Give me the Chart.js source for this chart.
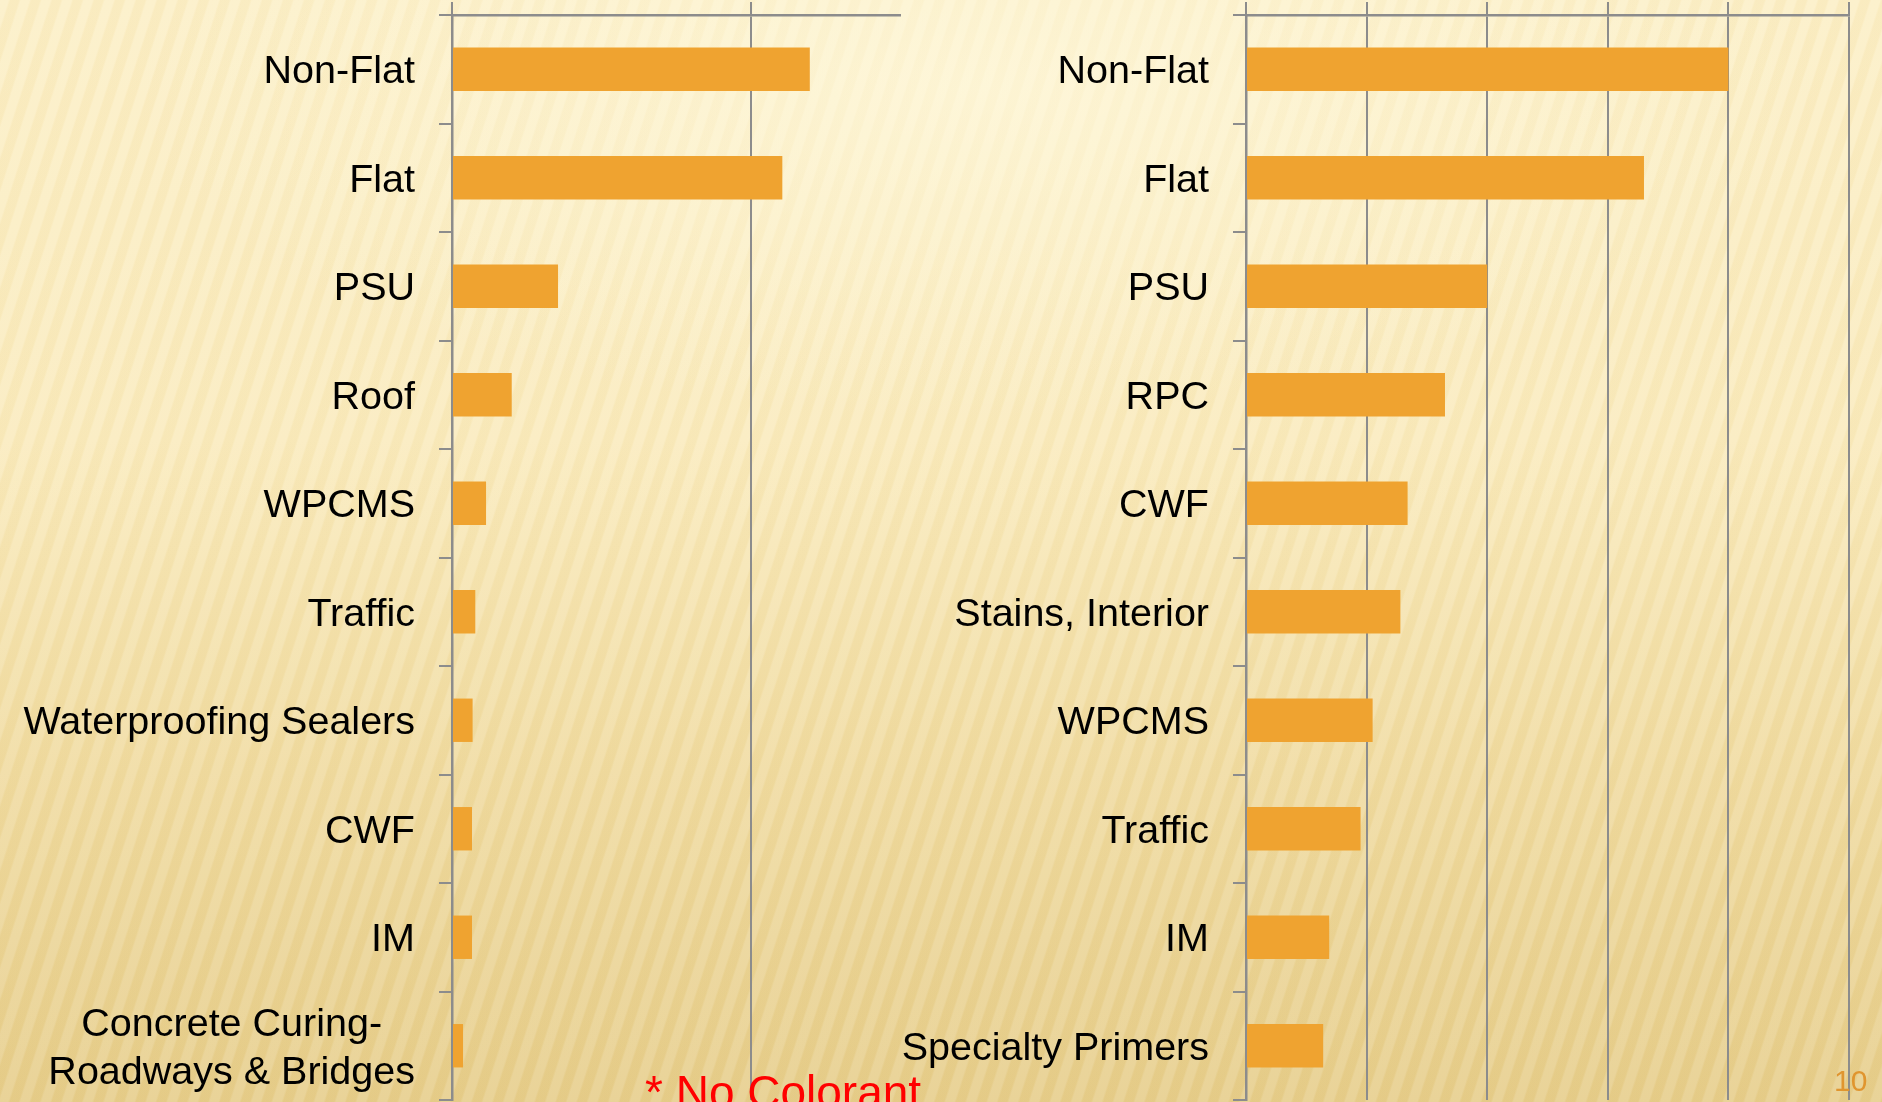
<!DOCTYPE html>
<html>
<head>
<meta charset="utf-8">
<script src="https://cdn.jsdelivr.net/npm/chart.js@4.4.0/dist/chart.umd.min.js"></script>
<style>
  html, body { margin: 0; padding: 0; }
  #page {
    position: relative;
    width: 1882px;
    height: 1102px;
    overflow: hidden;
    font-family: 'Liberation Sans', Arial, sans-serif;
    background:
      radial-gradient(ellipse 45% 30% at 52% 8%, rgba(255, 250, 225, 0.6), rgba(255, 250, 225, 0) 100%),
      repeating-linear-gradient(108deg, rgba(255, 255, 255, 0.12) 0px, rgba(255, 255, 255, 0.12) 8px, rgba(196, 156, 60, 0.045) 10px, rgba(196, 156, 60, 0.045) 18px, rgba(255, 255, 255, 0.12) 20px),
      linear-gradient(to bottom, #fcefc6 0%, #faebbd 40%, #f0dba0 70%, #e6cd8a 100%);
  }
  canvas { position: absolute; top: 0; }
  #leftChart { left: 0; }
  #rightChart { left: 880px; }
  #note {
    position: absolute; left: 645px; top: 1069px;
    font-size: 46px; line-height: 46px; color: #ff0000; white-space: nowrap;
  }
  #pageNum {
    position: absolute; left: 1834px; top: 1066px;
    font-size: 30px; line-height: 30px; color: #e0952f;
  }
</style>
</head>
<body>
<div id="page">
  <canvas id="leftChart" width="910" height="1102"></canvas>
  <canvas id="rightChart" width="1002" height="1102"></canvas>
  <div id="note">* No Colorant</div>
  <div id="pageNum">10</div>
</div>
<script>
// left panel
var leftLabels = ['Non-Flat', 'Flat', 'PSU', 'Roof', 'WPCMS', 'Traffic',
    'Waterproofing Sealers', 'CWF', 'IM',
    ['Concrete Curing-\u00a0\u00a0\u00a0', 'Roadways & Bridges']];
var leftValues = [119.8, 110.6, 35.5, 20.0, 11.4, 7.8, 6.9, 6.7, 6.7, 3.7];
var leftTicks = [0, 100, 150];   // 150 is just the end of the axis, no gridline there

// right panel
var rightLabels = ['Non-Flat', 'Flat', 'PSU', 'RPC', 'CWF', 'Stains, Interior',
    'WPCMS', 'Traffic', 'IM', 'Specialty Primers'];
var rightValues = [4.0, 3.3, 2.0, 1.65, 1.34, 1.28, 1.05, 0.95, 0.69, 0.64];
var rightTicks = [0, 1, 2, 3, 4, 5];

var gray = '#8c8c8c';
var barColor = '#efa330';

Chart.defaults.font.family = "'Liberation Sans', Arial, sans-serif";

function makeChart(id, labels, values, ticks, yWidth, padRight, hiddenTick) {
    var ctx = document.getElementById(id).getContext('2d');
    return new Chart(ctx, {
        type: 'bar',
        data: {
            labels: labels,
            datasets: [{
                data: values,
                backgroundColor: barColor,
                borderWidth: 0,
                barPercentage: 0.4,
                categoryPercentage: 1.0
            }]
        },
        options: {
            indexAxis: 'y',
            responsive: false,
            animation: false,
            layout: { padding: { left: 0, top: 0, right: padRight, bottom: 2 } },
            plugins: { legend: { display: false }, tooltip: { enabled: false } },
            scales: {
                x: {
                    position: 'top',
                    min: ticks[0],
                    max: ticks[ticks.length - 1],
                    afterBuildTicks: function(s) {
                        s.ticks = ticks.map(function(v) { return { value: v }; });
                    },
                    afterFit: function(s) {
                        s.height = 15;
                        s.paddingLeft = 0;
                        s.paddingRight = 0;
                    },
                    ticks: { display: false },
                    grid: {
                        color: function(c) {
                            return (c.tick && c.tick.value === hiddenTick) ? 'rgba(0,0,0,0)' : gray;
                        },
                        lineWidth: 2,
                        tickLength: 13
                    },
                    border: { color: gray, width: 2.5 }
                },
                y: {
                    z: 1,
                    afterFit: function(s) {
                        s.width = yWidth;
                        s.paddingTop = 0;
                        s.paddingBottom = 0;
                    },
                    ticks: {
                        color: '#000',
                        font: { size: 39.5, lineHeight: 1.22 },
                        padding: 24,
                        labelOffset: 3,
                        autoSkip: false
                    },
                    grid: { drawOnChartArea: false, color: gray, lineWidth: 2, tickLength: 13 },
                    border: { color: gray, width: 2.5 }
                }
            }
        }
    });
}

var leftChart = makeChart('leftChart', leftLabels, leftValues, leftTicks, 452, 10, 150);
var rightChart = makeChart('rightChart', rightLabels, rightValues, rightTicks, 366, 33, null);
</script>
</body>
</html>
